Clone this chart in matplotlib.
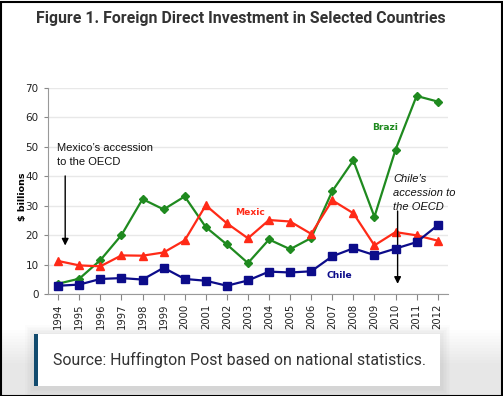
import matplotlib.pyplot as plt
from matplotlib.patches import Rectangle

years = list(range(1994, 2013))
chile = [2.8, 3.2, 5.1, 5.4, 4.9, 8.9, 5.1, 4.5, 2.8, 4.6,
         7.6, 7.3, 7.7, 12.8, 15.5, 13.2, 15.4, 17.6, 23.3]
mexico = [11.2, 9.7, 9.4, 13.1, 13.0, 14.1, 18.2, 30.1, 24.0, 18.9,
          25.1, 24.6, 20.4, 31.8, 27.4, 16.5, 21.0, 19.9, 18.1]
brazil = [3.5, 5.2, 11.5, 20.0, 32.2, 28.7, 33.1, 22.7, 16.8, 10.5,
          18.5, 15.2, 19.0, 34.9, 45.3, 26.2, 48.9, 67.2, 65.3]

W, H = 503, 396
fig = plt.figure(figsize=(W / 100, H / 100), dpi=100)
fig.patch.set_facecolor('white')

# light grey shade under the chart and the source box
for i in range(12):
    fig.patches.append(Rectangle((0, 0), 1, (66 - i * 3) / H, transform=fig.transFigure,
                                 facecolor='#000000', alpha=0.006, edgecolor='none', zorder=0))
for i in range(6):
    pad = (6 - i) * 1.5
    fig.patches.append(Rectangle(((34 - pad) / W, (H - 388 - pad) / H),
                                 (407 + 2 * pad) / W, (54 + 2 * pad) / H,
                                 transform=fig.transFigure, facecolor='#000000',
                                 alpha=0.01, edgecolor='none', zorder=0))
fig.patches.append(Rectangle((34 / W, (H - 386) / H), 406 / W, 52 / H,
                             transform=fig.transFigure, facecolor='white',
                             edgecolor='none', zorder=1))
fig.patches.append(Rectangle((33.5 / W, (H - 386) / H), 4.5 / W, 52 / H,
                             transform=fig.transFigure, facecolor='#124b6e',
                             edgecolor='none', zorder=2))
fig.patches.append(Rectangle((0.5 / W, 0.5 / H), 1 - 2 / W, 1 - 2 / H,
                             transform=fig.transFigure, facecolor='none',
                             edgecolor='black', linewidth=1.5, zorder=5))

fig.text(36 / W, 1 - 18 / H, "Figure 1. Foreign Direct Investment in Selected Countries",
         fontfamily='Roboto', fontweight='bold', fontsize=11.4, color='#333333',
         va='center', ha='left')
fig.text(53 / W, 1 - 360 / H, "Source: Huffington Post based on national statistics.",
         fontfamily='Roboto', fontsize=11.4, color='#333333', va='center', ha='left', zorder=3)

ax = fig.add_axes([47.7 / W, (H - 294) / H, 400.5 / W, 206.3 / H])
ax.set_facecolor('white')

ax.plot(years, brazil, color='#1f8a1f', marker='D', markersize=4, linewidth=1.6, zorder=3)
ax.plot(years, mexico, color='#ff2a17', marker='^', markersize=6, linewidth=1.6, zorder=3)
ax.plot(years, chile, color='#0c0c8a', marker='s', markersize=6, linewidth=1.6, zorder=4)

ax.set_xlim(1993.5, 2012.5)
ax.set_ylim(0, 70)
ax.set_xticks(years)
ax.set_xticklabels([str(y) for y in years], rotation=90, fontsize=7.2, color='#222222')
ax.set_yticks(range(0, 71, 10))
ax.tick_params(axis='y', labelsize=7.5, length=3, colors='#888888', labelcolor='#222222')
ax.tick_params(axis='x', length=4, colors='#888888', labelcolor='#222222', pad=3)
ax.grid(axis='y', color='#e8e8e8', linewidth=1)
ax.set_axisbelow(True)
for s in ['top', 'right']:
    ax.spines[s].set_visible(False)
for s in ['left', 'bottom']:
    ax.spines[s].set_color('#999999')
ax.set_ylabel(r"\$ billions", fontsize=6.8, fontweight='bold')
ax.yaxis.set_label_coords(-0.052, 0.47)

ax.text(2009.52, 56.5, "Brazi", color='#1f8a1f', fontsize=6.6, fontweight='bold',
        ha='center', va='center')
ax.text(2003.08, 27.5, "Mexic", color='#ff2a17', fontsize=6.6, fontweight='bold',
        ha='center', va='center')
ax.text(2007.32, 6.4, "Chile", color='#0c0c8a', fontsize=6.6, fontweight='bold',
        ha='center', va='center')

for i, line in enumerate(["Mexico\u2019s accession", "to the OECD"]):
    ax.text(1993.95, 49.7 - i * 5.08, line, fontsize=8, fontfamily='Liberation Sans',
            color='#111111', va='center', ha='left')
ax.annotate("", xy=(1994.33, 15.5), xytext=(1994.33, 41),
            arrowprops=dict(arrowstyle='-|>', color='black', lw=1, mutation_scale=10))
for i, line in enumerate(["Chile\u2019s", "accession to", "the OECD"]):
    ax.text(2009.9, 39.0 - i * 4.75, line, fontsize=8, fontfamily='Liberation Sans',
            style='italic', color='#111111', va='center', ha='left')
ax.annotate("", xy=(2010.1, 2.5), xytext=(2010.1, 29.1),
            arrowprops=dict(arrowstyle='-|>', color='black', lw=1, mutation_scale=10))

fig.savefig('out.png', dpi=100)
